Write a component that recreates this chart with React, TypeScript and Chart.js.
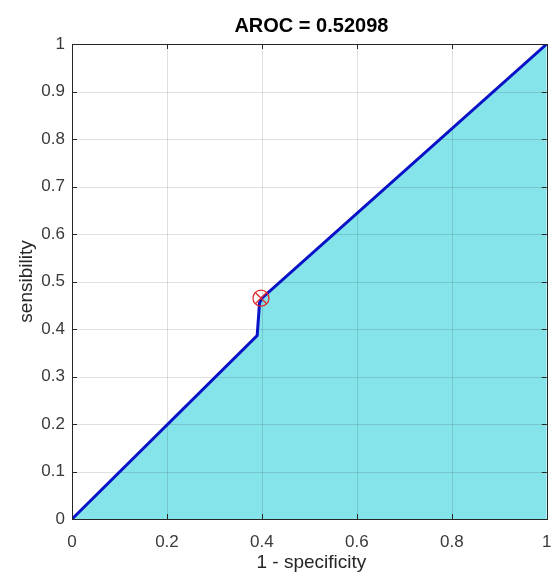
import React, { useEffect, useRef } from "react";
import { Chart, registerables } from "chart.js";

Chart.register(...registerables);

const fprValues = [0, 0.39, 0.395, 0.4, 1];
const tprValues = [0, 0.386, 0.455, 0.465, 1];
const operatingPointX = [0.398];
const operatingPointY = [0.465];
const xTicks = [0, 0.2, 0.4, 0.6, 0.8, 1];
const yTicks = [0, 0.1, 0.2, 0.3, 0.4, 0.5, 0.6, 0.7, 0.8, 0.9, 1];
const titleText = "AROC = 0.52098";
const xLabel = "1 - specificity";
const yLabel = "sensibility";

const FONT = "'Liberation Sans', Arial, Helvetica, sans-serif";

const matlabAxes = {
  id: "matlabAxes",
  afterDatasetDraw(chart: any, args: any) {
    if (args.index !== 0) return;
    const { ctx, chartArea: a, scales } = chart;
    ctx.save();
    ctx.strokeStyle = "rgba(0,0,0,0.12)";
    ctx.lineWidth = 1;
    ctx.beginPath();
    xTicks.forEach((t) => {
      const px = Math.round(scales.x.getPixelForValue(t)) + 0.5;
      ctx.moveTo(px, a.top);
      ctx.lineTo(px, a.bottom);
    });
    yTicks.forEach((t) => {
      const py = Math.round(scales.y.getPixelForValue(t)) + 0.5;
      ctx.moveTo(a.left, py);
      ctx.lineTo(a.right, py);
    });
    ctx.stroke();
    ctx.restore();
  },
  afterDraw(chart: any) {
    const { ctx, chartArea: a, scales } = chart;
    ctx.save();
    ctx.strokeStyle = "#262626";
    ctx.lineWidth = 1;
    ctx.strokeRect(Math.round(a.left) + 0.5, Math.round(a.top) + 0.5, Math.round(a.right - a.left), Math.round(a.bottom - a.top));
    const tl = 5;
    ctx.beginPath();
    xTicks.forEach((t) => {
      const px = Math.round(scales.x.getPixelForValue(t)) + 0.5;
      ctx.moveTo(px, a.bottom);
      ctx.lineTo(px, a.bottom - tl);
      ctx.moveTo(px, a.top);
      ctx.lineTo(px, a.top + tl);
    });
    yTicks.forEach((t) => {
      const py = Math.round(scales.y.getPixelForValue(t)) + 0.5;
      ctx.moveTo(a.left, py);
      ctx.lineTo(a.left + tl, py);
      ctx.moveTo(a.right, py);
      ctx.lineTo(a.right - tl, py);
    });
    ctx.stroke();

    ctx.fillStyle = "#3a3a3a";
    ctx.font = `17px ${FONT}`;
    ctx.textAlign = "center";
    ctx.textBaseline = "alphabetic";
    xTicks.forEach((t) => {
      ctx.fillText(String(t), scales.x.getPixelForValue(t), a.bottom + 28);
    });
    ctx.textAlign = "right";
    ctx.textBaseline = "middle";
    yTicks.forEach((t) => {
      ctx.fillText(String(t), a.left - 7, scales.y.getPixelForValue(t));
    });

    ctx.fillStyle = "#262626";
    ctx.font = `19px ${FONT}`;
    ctx.textAlign = "center";
    ctx.textBaseline = "alphabetic";
    ctx.fillText(xLabel, (a.left + a.right) / 2 + 2, a.bottom + 49);
    ctx.save();
    ctx.translate(32, (a.top + a.bottom) / 2);
    ctx.rotate(-Math.PI / 2);
    ctx.fillText(yLabel, 0, 0);
    ctx.restore();

    ctx.fillStyle = "#000000";
    ctx.font = `bold 20px ${FONT}`;
    ctx.fillText(titleText, (a.left + a.right) / 2 + 2, 32);
    ctx.restore();
  },
};

export default function App() {
  const ref = useRef<HTMLCanvasElement | null>(null);
  useEffect(() => {
    document.body.style.margin = "0";
    const canvas = ref.current;
    if (!canvas) return;
    const mk = () => fprValues.map((x, i) => ({ x, y: tprValues[i] }));
    const mkOp = () => operatingPointX.map((x, i) => ({ x, y: operatingPointY[i] }));
    const chart = new Chart(canvas, {
      type: "line",
      data: {
        datasets: [
          {
            data: mk(),
            order: 4,
            fill: "origin",
            backgroundColor: "rgb(133,228,234)",
            borderWidth: 0,
            borderColor: "rgba(0,0,0,0)",
            pointRadius: 0,
            tension: 0,
          },
          {
            data: mk(),
            order: 3,
            fill: false,
            borderColor: "rgb(10,18,200)",
            backgroundColor: "rgb(10,18,200)",
            borderWidth: 3,
            pointRadius: 0,
            tension: 0,
          },
          {
            data: mkOp(),
            order: 2,
            showLine: false,
            pointStyle: "circle",
            pointRadius: 8,
            pointBorderWidth: 1.2,
            pointBorderColor: "rgb(225,40,40)",
            pointBackgroundColor: "rgba(0,0,0,0)",
          },
          {
            data: mkOp(),
            order: 1,
            showLine: false,
            pointStyle: "crossRot",
            pointRadius: 8,
            pointBorderWidth: 1.2,
            pointBorderColor: "rgb(225,40,40)",
          },
        ],
      },
      options: {
        animation: false,
        responsive: false,
        devicePixelRatio: 1,
        layout: { padding: { left: 72, top: 44, right: 3, bottom: 55 } },
        plugins: {
          legend: { display: false },
          tooltip: { enabled: false },
          title: { display: false },
        },
        scales: {
          x: { type: "linear", min: 0, max: 1, display: false },
          y: { type: "linear", min: 0, max: 1, display: false },
        },
      },
      plugins: [matlabAxes],
    });
    return () => chart.destroy();
  }, []);
  return <canvas ref={ref} width={556} height={574} style={{ display: "block", width: 556, height: 574 }} />;
}
